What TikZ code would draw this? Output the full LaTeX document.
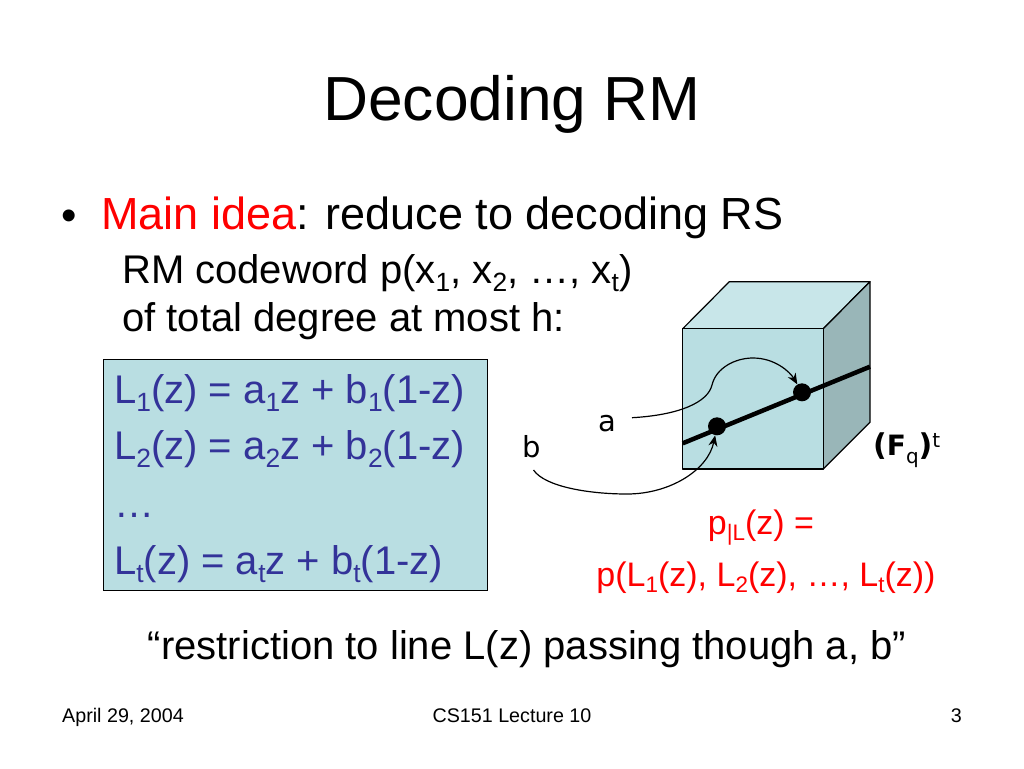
\documentclass[tikz,border=0pt]{standalone}
\usepackage{fontspec}
\setmainfont{Liberation Sans}
\newfontfamily\comic{DejaVu Sans}
\usetikzlibrary{arrows.meta}
\definecolor{boxfill}{HTML}{B9DEE2}
\definecolor{topfill}{HTML}{C8E6E9}
\definecolor{sidefill}{HTML}{99B6B8}
\definecolor{eqblue}{HTML}{333399}
\newcommand{\dn}[1]{\raisebox{-0.2em}{\scalebox{0.66}{#1}}}
\newcommand{\fsz}[1]{\fontsize{#1}{#1}\selectfont}
\tikzset{
  txt/.style={inner sep=0pt,anchor=base west,text=black},
  eq/.style={txt,text=eqblue,font=\fsz{40}},
  body/.style={txt,font=\fsz{40}},
  foot/.style={inner sep=0pt,anchor=base,font=\fsz{19.7}},
  red txt/.style={inner sep=0pt,anchor=base,text=red,font=\fsz{34}},
  face/.style={draw=black,line width=1.2pt,line join=round},
  curve/.style={draw=black,line width=1.2pt,-{Stealth[length=11pt,width=9pt]}},
  dot/.style={circle,fill=black,inner sep=0pt,minimum size=18pt},
  pen/.style={inner sep=0pt,anchor=base,font=\comic\fsz{29}}
}
\begin{document}
\begin{tikzpicture}[x=1pt,y=-1pt]
\useasboundingbox (0,0) rectangle (1024,768);
\node[inner sep=0pt,anchor=base,font=\fsz{62.3}] (title) at (512,120) {Decoding RM};
\node[txt,font=\fsz{44}] (bullet) at (61,230) {•};
\node[txt,font=\fsz{45}] (main) at (101,229) {\textcolor{red}{Main idea}: reduce to decoding RS};
\node[body] (l1) at (122,283) {RM codeword p(x\dn{1}, x\dn{2}, …, x\dn{t})};
\node[body] (l2) at (122,331) {of total degree at most h:};
\node[draw=black,fill=boxfill,line width=1.2pt,inner sep=0pt,minimum width=384pt,minimum height=231pt,anchor=north west] (box) at (102.5,358.5) {};
\node[eq] (e1) at (114,403) {L\dn{1}(z) = a\dn{1}z + b\dn{1}(1-z)};
\node[eq] (e2) at (114,459) {L\dn{2}(z) = a\dn{2}z + b\dn{2}(1-z)};
\node[eq] (e3) at (114,517) {…};
\node[eq] (e4) at (114,574) {L\dn{t}(z) = a\dn{t}z + b\dn{t}(1-z)};
% cube
\coordinate (f1) at (682.7,328.7);
\coordinate (f2) at (823.3,328.7);
\coordinate (f3) at (823.3,469);
\coordinate (f4) at (682.7,469);
\coordinate (b1) at (729.3,281.7);
\coordinate (b2) at (870,281.7);
\coordinate (b3) at (870,422.3);
\draw[face,fill=topfill] (f1) -- (b1) -- (b2) -- (f2) -- cycle;
\draw[face,fill=sidefill] (f2) -- (b2) -- (b3) -- (f3) -- cycle;
\draw[face,fill=boxfill] (f1) -- (f2) -- (f3) -- (f4) -- cycle;
\coordinate (ls) at (682.7,443.3);
\coordinate (le) at (870,366.7);
\draw[line width=4.5pt] (ls) -- (le);
\node[dot] (da) at (802,392.3) {};
\node[dot] (db) at (717,426.3) {};
\node[pen] (la) at (607,431) {a};
\node[pen] (lb) at (532,457) {b};
\coordinate (sa) at (632,417.7);
\coordinate (sb) at (533.5,470);
\draw[curve] (sa) .. controls (680,415) and (708,402) .. (712,385)
  .. controls (716,368) and (735,358) .. (753,358)
  .. controls (775,358) and (790,372) .. (da);
\draw[curve] (sb) .. controls (545,487) and (590,494) .. (627,494)
  .. controls (670,494) and (708,470) .. (db);
\node[inner sep=0pt,anchor=base west,font=\comic\fsz{30}] (fq) at (873,455) {\textbf{(}{\fsz{28}\bfseries F}\raisebox{-8pt}{\fsz{20}q}\textbf{)}\raisebox{8pt}{\fsz{20}t}};
\node[red txt] (p1) at (761,534) {p\dn{|L}(z) =};
\node[red txt] (p2) at (766,586) {p(L\dn{1}(z), L\dn{2}(z), …, L\dn{t}(z))};
\node[inner sep=0pt,anchor=base,font=\fsz{40}] (cap) at (527,659) {“restriction to line L(z) passing though a, b”};
\node[foot,anchor=base west] (date) at (62,722) {April 29, 2004};
\node[foot] (lect) at (512,722) {CS151 Lecture 10};
\node[foot,anchor=base east] (num) at (962,722) {3};
\end{tikzpicture}
\end{document}
